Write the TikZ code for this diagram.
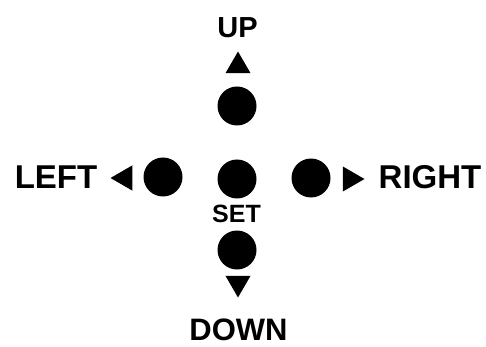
\documentclass[tikz,border=0pt]{standalone}
\usepackage{fontspec}
\setmainfont{Liberation Sans}
\usetikzlibrary{shapes.geometric}
\begin{document}
\begin{tikzpicture}[x=1pt,y=-1pt,
  btn/.style={circle,fill=black,minimum size=39pt,inner sep=0pt},
  tri/.style={regular polygon,regular polygon sides=3,fill=black,minimum size=29pt,inner sep=0pt},
  lbl/.style={font=\bfseries,inner sep=0pt}]
\useasboundingbox (0,0) rectangle (486,347);
\fill[white] (0,0) rectangle (486,347);
% buttons
\node[btn] (bup) at (237,106) {};
\node[btn] (bset) at (237,179) {};
\node[btn] (bdown) at (237,250) {};
\node[btn] (bleft) at (163,177) {};
\node[btn] (bright) at (311,178) {};
% arrows
\node[tri] (tup) at (238,66) {};
\node[tri,shape border rotate=180] (tdown) at (238,283) {};
\node[tri,shape border rotate=90] (tleft) at (125,178) {};
\node[tri,shape border rotate=270] (tright) at (350,179) {};
% labels
\node[lbl,font=\fontsize{29}{30}\selectfont\bfseries] (lup) at (237.5,27.5) {UP};
\node[lbl,font=\fontsize{31}{32}\selectfont\bfseries] (ldown) at (238.5,329.5) {DOWN};
\node[lbl,font=\fontsize{33}{34}\selectfont\bfseries] (lleft) at (56,177.5) {LEFT};
\node[lbl,font=\fontsize{33}{34}\selectfont\bfseries] (lright) at (430,177.5) {RIGHT};
\node[lbl,font=\fontsize{25}{26}\selectfont\bfseries] (lset) at (236.5,214) {SET};
\end{tikzpicture}
\end{document}
